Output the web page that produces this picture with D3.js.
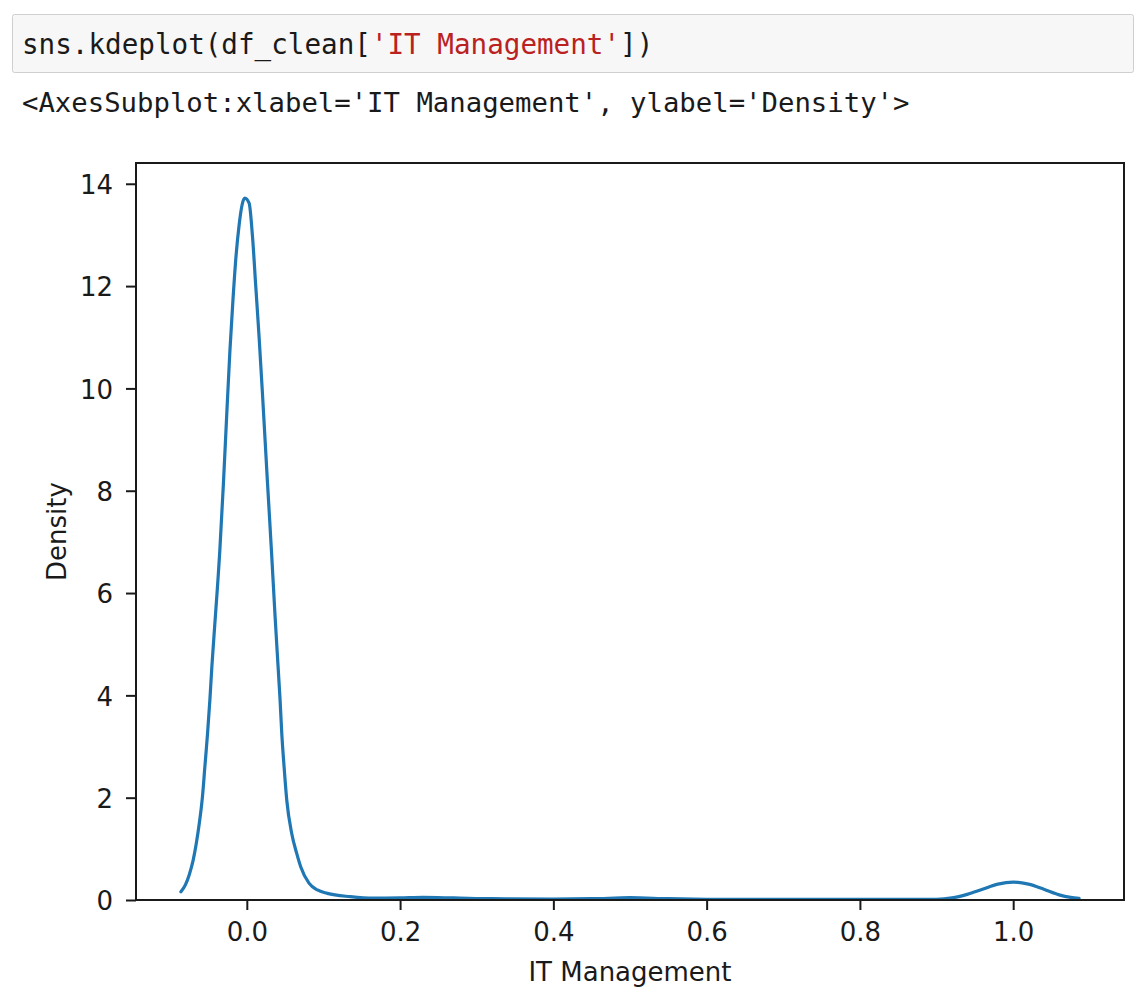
<!DOCTYPE html>
<html>
<head>
<meta charset="utf-8">
<script src="https://cdn.jsdelivr.net/npm/d3@7"></script>
<style>
  html, body { margin: 0; padding: 0; background: #fff; }
  svg { display: block; }
</style>
</head>
<body>
<svg id="chart" width="1135" height="1000"></svg>
<script>
// values (IT Management -> Density)
const itValues = [
  -0.086, -0.080, -0.075, -0.070, -0.066, -0.062, -0.058, -0.0547,
  -0.0512, -0.0482, -0.0456, -0.0426, -0.0352, -0.0305, -0.026, -0.022,
  -0.018, -0.014, -0.010, -0.006, -0.0026, 0.003, 0.0074, 0.0117,
  0.016, 0.0204, 0.027, 0.0321, 0.0369, 0.0408, 0.0434, 0.0456,
  0.0486, 0.0521, 0.0586, 0.0651, 0.0703, 0.0811, 0.092, 0.105,
  0.135, 0.166, 0.2, 0.23, 0.27, 0.32, 0.4, 0.45,
  0.5, 0.55, 0.6, 0.7, 0.8, 0.9, 0.92, 0.94,
  0.96, 0.98, 1.0, 1.02, 1.04, 1.06, 1.075, 1.086
];
const densities = [
  0.16, 0.30, 0.50, 0.78, 1.10, 1.50, 2.00, 2.61,
  3.26, 3.91, 4.56, 5.21, 6.84, 8.15, 9.55, 10.75,
  11.75, 12.6, 13.2, 13.6, 13.72, 13.62, 12.97, 11.99,
  11.01, 9.9, 8.15, 6.84, 5.54, 4.56, 3.91, 3.26,
  2.61, 1.955, 1.30, 0.91, 0.65, 0.33, 0.196, 0.13,
  0.065, 0.035, 0.04, 0.05, 0.04, 0.025, 0.02, 0.025,
  0.045, 0.025, 0.015, 0.012, 0.012, 0.015, 0.04, 0.11,
  0.21, 0.31, 0.35, 0.31, 0.21, 0.10, 0.05, 0.03
];
const xTicks = [0, 0.2, 0.4, 0.6, 0.8, 1.0];
const yTicks = [0, 2, 4, 6, 8, 10, 12, 14];

const codeLine = ['sns.kdeplot(df_clean[', "'IT Management'", '])'];
const outLine = "<AxesSubplot:xlabel='IT Management', ylabel='Density'>";

const margin = { left: 136, top: 163, right: 11, bottom: 100 };
const W = 1135, H = 1000;
const plotW = W - margin.left - margin.right;
const plotH = H - margin.top - margin.bottom;
const font = '"DejaVu Sans", sans-serif';
const mono = '"DejaVu Sans Mono", monospace';
const ink = '#1a1a1a';

const svg = d3.select('#chart');

// notebook cell
svg.append('rect')
  .attr('x', 12.5).attr('y', 14.5)
  .attr('width', 1121).attr('height', 58)
  .attr('rx', 2)
  .attr('fill', '#f7f7f7')
  .attr('stroke', '#cfcfcf');

const code = svg.append('text')
  .attr('x', 22).attr('y', 54)
  .attr('font-family', mono).attr('font-size', 27.6)
  .attr('fill', ink);
codeLine.forEach((s, i) => {
  code.append('tspan').attr('fill', i === 1 ? '#BA2121' : ink).text(s);
});

svg.append('text')
  .attr('x', 22).attr('y', 112)
  .attr('font-family', mono).attr('font-size', 27.3)
  .attr('fill', ink)
  .text(outLine);

// scales, with matplotlib-like 5% margins
const xExt = d3.extent(itValues);
const xPad = (xExt[1] - xExt[0]) * 0.05;
const x = d3.scaleLinear()
  .domain([xExt[0] - xPad, xExt[1] + xPad])
  .range([0, plotW]);
const y = d3.scaleLinear()
  .domain([0, d3.max(densities) * 1.05])
  .range([plotH, 0]);

const g = svg.append('g')
  .attr('transform', `translate(${margin.left},${margin.top})`);

const pts = itValues.map((v, i) => [v, densities[i]]);
const line = d3.line()
  .x((d) => x(d[0]))
  .y((d) => y(d[1]))
  .curve(d3.curveMonotoneX);

g.append('path')
  .datum(pts)
  .attr('d', line)
  .attr('fill', 'none')
  .attr('stroke', '#1f77b4')
  .attr('stroke-width', 3.2)
  .attr('stroke-linejoin', 'round')
  .attr('stroke-linecap', 'round');

const xAxis = g.append('g')
  .attr('transform', `translate(0,${plotH})`)
  .call(d3.axisBottom(x).tickValues(xTicks).tickFormat(d3.format('.1f'))
    .tickSize(10).tickPadding(12).tickSizeOuter(0));
const yAxis = g.append('g')
  .call(d3.axisLeft(y).tickValues(yTicks).tickFormat(d3.format('d'))
    .tickSize(10).tickPadding(13).tickSizeOuter(0));

[xAxis, yAxis].forEach((a) => {
  a.select('.domain').remove();
  a.selectAll('.tick line').attr('stroke', ink).attr('stroke-width', 2);
  a.selectAll('.tick text')
    .attr('font-family', font).attr('font-size', 26).attr('fill', ink);
});
xAxis.selectAll('.tick text').attr('dy', '0.72em');
yAxis.selectAll('.tick text').attr('dy', '0.38em');

// frame
g.append('rect')
  .attr('width', plotW).attr('height', plotH)
  .attr('fill', 'none')
  .attr('stroke', ink).attr('stroke-width', 2);

g.append('text')
  .attr('x', plotW / 2).attr('y', plotH + 81)
  .attr('text-anchor', 'middle')
  .attr('font-family', font).attr('font-size', 26).attr('fill', ink)
  .text('IT Management');

g.append('text')
  .attr('transform', `translate(${-70},${plotH / 2}) rotate(-90)`)
  .attr('text-anchor', 'middle')
  .attr('font-family', font).attr('font-size', 26).attr('fill', ink)
  .text('Density');
</script>
</body>
</html>
